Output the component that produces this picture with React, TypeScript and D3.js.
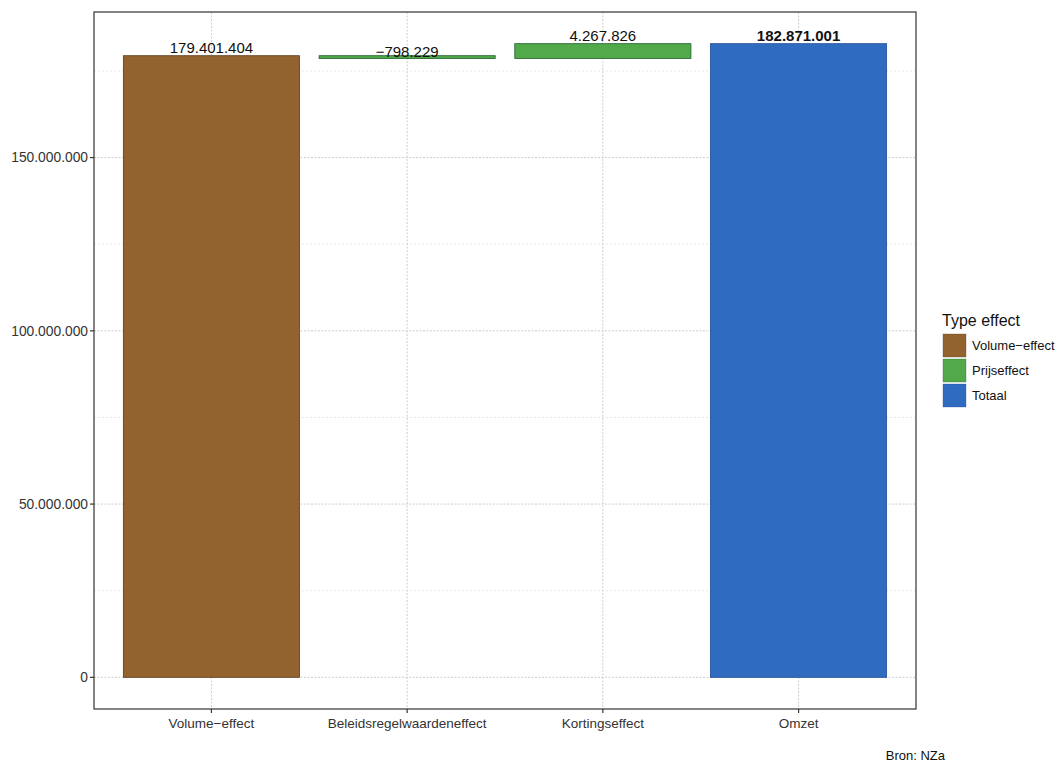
import React from "react";
import * as d3 from "d3";

const categories = ["Volume−effect", "Beleidsregelwaardeneffect", "Kortingseffect", "Omzet"];
const values = [179401404, -798229, 4267826, 182871001];
const types = ["Volume-effect", "Prijseffect", "Prijseffect", "Totaal"];
const legendLabels = ["Volume−effect", "Prijseffect", "Totaal"];
const legendKeys = ["Volume-effect", "Prijseffect", "Totaal"];
const majorTicks = [0, 50000000, 100000000, 150000000];
const minorTicks = [25000000, 75000000, 125000000, 175000000];

const fills: Record<string, string> = {
  "Volume-effect": "#93632f",
  Prijseffect: "#52a94a",
  Totaal: "#2f6cc0",
};
const strokes: Record<string, string> = {
  "Volume-effect": "#5a3a1a",
  Prijseffect: "#1f5e2a",
  Totaal: "#1d4a95",
};

const nl = d3.formatLocale({ decimal: ",", thousands: ".", grouping: [3], currency: ["€", ""] });
const fmt = nl.format(",d");

export default function App() {
  const W = 1058, H = 767;
  const left = 94, right = 916, top = 12, bottom = 709;

  let cum = 0;
  const segs = categories.map((c, i) => {
    let start: number, end: number;
    if (types[i] === "Totaal") {
      start = 0;
      end = values[i];
    } else {
      start = cum;
      end = cum + values[i];
      cum = end;
    }
    return { c, start, end, v: values[i], t: types[i] };
  });

  const maxV = d3.max(segs, (s) => Math.max(s.start, s.end)) as number;
  const minV = Math.min(0, d3.min(segs, (s) => Math.min(s.start, s.end)) as number);
  const pad = (maxV - minV) * 0.05;

  const x = d3.scaleBand().domain(categories).range([left, right]).paddingInner(0.1).paddingOuter(0.15);
  const y = d3.scaleLinear().domain([minV - pad, maxV + pad]).range([bottom, top]);

  const grid = "#c8c8c8";

  return (
    <div style={{ position: "absolute", left: 0, top: 0 }}>
      <svg width={W} height={H} style={{ display: "block", background: "#fff", fontFamily: "Liberation Sans, Arial, sans-serif" }}>
        {minorTicks.map((t) => (
          <line key={"mi" + t} x1={left} x2={right} y1={y(t)} y2={y(t)} stroke="#dcdcdc" strokeWidth={0.7} strokeDasharray="2,2" />
        ))}
        {majorTicks.map((t) => (
          <line key={"ma" + t} x1={left} x2={right} y1={y(t)} y2={y(t)} stroke={grid} strokeWidth={0.9} strokeDasharray="2,1.5" />
        ))}
        {categories.map((c) => (
          <line key={"vx" + c} x1={(x(c) as number) + x.bandwidth() / 2} x2={(x(c) as number) + x.bandwidth() / 2} y1={top} y2={bottom} stroke={grid} strokeWidth={0.9} strokeDasharray="2,1.5" />
        ))}
        {segs.map((s) => {
          const y0 = y(Math.max(s.start, s.end));
          const y1 = y(Math.min(s.start, s.end));
          return (
            <rect key={"b" + s.c} x={x(s.c)} y={y0} width={x.bandwidth()} height={Math.max(1, y1 - y0)} fill={fills[s.t]} stroke={strokes[s.t]} strokeWidth={0.8} />
          );
        })}
        {segs.map((s) => (
          <text key={"l" + s.c} x={(x(s.c) as number) + x.bandwidth() / 2} y={y(s.end) - (s.v < 0 ? 1 : 2.5)} textAnchor="middle" fontSize={15} fill="#111" fontWeight={s.t === "Totaal" ? "bold" : "normal"}>
            {fmt(s.v)}
          </text>
        ))}
        <rect x={left} y={top} width={right - left} height={bottom - top} fill="none" stroke="#333" strokeWidth={1.2} />
        {majorTicks.map((t) => (
          <g key={"yt" + t}>
            <line x1={left - 4} x2={left} y1={y(t)} y2={y(t)} stroke="#333" strokeWidth={1.2} />
            <text x={left - 6} y={y(t)} dy="0.35em" textAnchor="end" fontSize={13.8} fill="#333">
              {fmt(t)}
            </text>
          </g>
        ))}
        {categories.map((c) => {
          const cx = (x(c) as number) + x.bandwidth() / 2;
          return (
            <g key={"xt" + c}>
              <line x1={cx} x2={cx} y1={bottom} y2={bottom + 4} stroke="#333" strokeWidth={1.2} />
              <text x={cx} y={bottom + 19} textAnchor="middle" fontSize={13.5} fill="#333">
                {c}
              </text>
            </g>
          );
        })}
        <text x={942} y={326} fontSize={16} fill="#111">Type effect</text>
        {legendKeys.map((k, i) => (
          <g key={"lg" + k}>
            <rect x={943} y={334 + i * 25} width={23} height={23} fill={fills[k]} stroke={strokes[k]} strokeWidth={0.6} strokeOpacity={0.5} />
            <text x={972} y={334 + i * 25 + 11.5} dy="0.35em" fontSize={13} fill="#111">
              {legendLabels[i]}
            </text>
          </g>
        ))}
        <text x={945} y={760} textAnchor="end" fontSize={13} fill="#111">Bron: NZa</text>
      </svg>
    </div>
  );
}
